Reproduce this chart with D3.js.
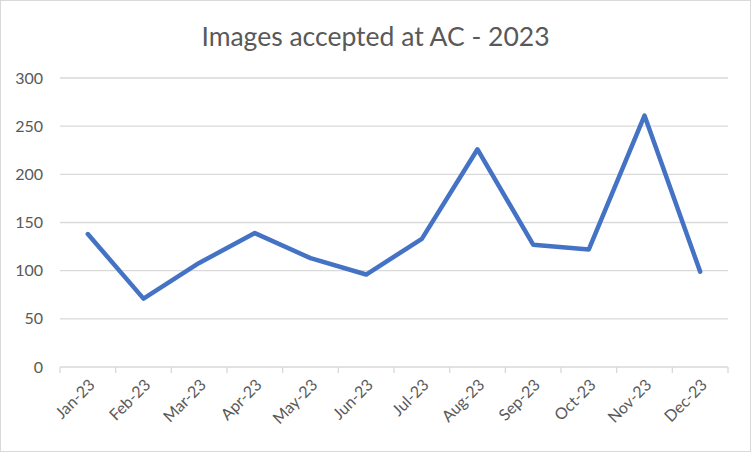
<!DOCTYPE html>
<html>
<head>
<meta charset="utf-8">
<script src="https://cdn.jsdelivr.net/npm/d3@7"></script>
<style>
  body { margin: 0; background: #fff; }
  svg text { font-family: Lato, "Open Sans", sans-serif; }
</style>
</head>
<body>
<div id="chart"></div>
<script>
'use strict';

const months = ['Jan-23', 'Feb-23', 'Mar-23', 'Apr-23', 'May-23', 'Jun-23',
    'Jul-23', 'Aug-23', 'Sep-23', 'Oct-23', 'Nov-23', 'Dec-23'];
const accepted = [138, 71, 108, 139, 113, 96, 133, 226, 127, 122, 261, 99];
const yTicks = [0, 50, 100, 150, 200, 250, 300];

const width = 751;
const height = 452;
const margin = { top: 78, right: 23, bottom: 85, left: 60 };
const chartWidth = width - margin.left - margin.right;
const chartHeight = height - margin.top - margin.bottom;

const svg = d3.select('#chart')
    .append('svg')
    .attr('width', width)
    .attr('height', height);

// outer chart border
svg.append('rect')
    .attr('x', 0.5)
    .attr('y', 0.5)
    .attr('width', width - 1)
    .attr('height', height - 1)
    .attr('fill', '#fff')
    .attr('stroke', '#d9d9d9');

svg.append('text')
    .attr('x', width / 2)
    .attr('y', 46)
    .attr('text-anchor', 'middle')
    .attr('font-size', 26.5)
    .attr('fill', '#595959')
    .text('Images accepted at AC - 2023');

const chart = svg.append('g')
    .attr('transform', `translate(${margin.left},${margin.top})`);

const xScale = d3.scaleBand()
    .domain(months)
    .range([0, chartWidth]);

const yScale = d3.scaleLinear()
    .domain([0, 300])
    .range([chartHeight, 0]);

// gridlines
chart.selectAll('line.grid')
    .data(yTicks.filter(function (d) { return d > 0; }))
    .join('line')
    .attr('class', 'grid')
    .attr('x1', 0)
    .attr('x2', chartWidth)
    .attr('y1', function (d) { return yScale(d); })
    .attr('y2', function (d) { return yScale(d); })
    .attr('stroke', '#d9d9d9')
    .attr('stroke-width', 1.3);

// y labels
chart.selectAll('text.ylab')
    .data(yTicks)
    .join('text')
    .attr('class', 'ylab')
    .attr('x', -17)
    .attr('y', function (d) { return yScale(d); })
    .attr('dy', '0.35em')
    .attr('text-anchor', 'end')
    .attr('font-size', 16)
    .attr('fill', '#595959')
    .text(function (d) { return d; });

// x axis line and ticks
chart.append('line')
    .attr('x1', 0)
    .attr('x2', chartWidth)
    .attr('y1', chartHeight)
    .attr('y2', chartHeight)
    .attr('stroke', '#d9d9d9')
    .attr('stroke-width', 1.3);

const bounds = months.map(function (m) { return xScale(m); }).concat([chartWidth]);
chart.selectAll('line.xtick')
    .data(bounds)
    .join('line')
    .attr('class', 'xtick')
    .attr('x1', function (d) { return d; })
    .attr('x2', function (d) { return d; })
    .attr('y1', chartHeight)
    .attr('y2', chartHeight + 6)
    .attr('stroke', '#d9d9d9')
    .attr('stroke-width', 1.3);

// rotated month labels
chart.selectAll('text.xlab')
    .data(months)
    .join('text')
    .attr('class', 'xlab')
    .attr('transform', function (d) {
        const cx = xScale(d) + xScale.bandwidth() / 2 + 4;
        return `translate(${cx},${chartHeight + 15}) rotate(-45)`;
    })
    .attr('text-anchor', 'end')
    .attr('dy', '0.35em')
    .attr('font-size', 16)
    .attr('fill', '#595959')
    .text(function (d) { return d; });

// line
const lineGen = d3.line()
    .x(function (d, i) { return xScale(months[i]) + xScale.bandwidth() / 2; })
    .y(function (d) { return yScale(d); });

chart.append('path')
    .datum(accepted)
    .attr('fill', 'none')
    .attr('stroke', '#4472c4')
    .attr('stroke-width', 4.5)
    .attr('stroke-linejoin', 'round')
    .attr('stroke-linecap', 'round')
    .attr('d', lineGen);
</script>
</body>
</html>
